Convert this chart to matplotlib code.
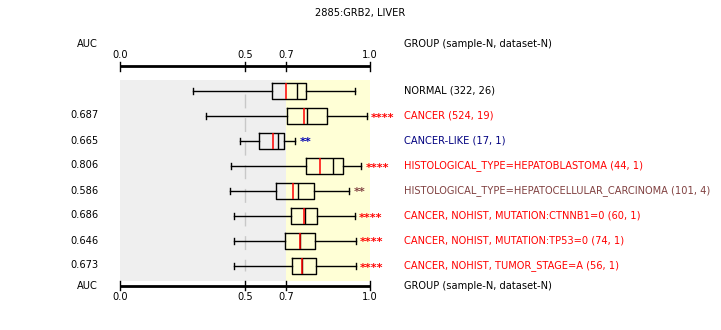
#!/usr/bin/env python3
import matplotlib
matplotlib.use("Agg")
import matplotlib.pyplot as plt

# group labels, AUC and colours (top to bottom)
groups = [
    "NORMAL (322, 26)",
    "CANCER (524, 19)",
    "CANCER-LIKE (17, 1)",
    "HISTOLOGICAL_TYPE=HEPATOBLASTOMA (44, 1)",
    "HISTOLOGICAL_TYPE=HEPATOCELLULAR_CARCINOMA (101, 4)",
    "CANCER, NOHIST, MUTATION:CTNNB1=0 (60, 1)",
    "CANCER, NOHIST, MUTATION:TP53=0 (74, 1)",
    "CANCER, NOHIST, TUMOR_STAGE=A (56, 1)",
]
auc = ["", "0.687", "0.665", "0.806", "0.586", "0.686", "0.646", "0.673"]
stars = ["", "****", "**", "****", "**", "****", "****", "****"]
colors = ["black", "#ff0000", "#000080", "#ff0000", "#804040", "#ff0000", "#ff0000", "#ff0000"]
star_colors = ["black", "#ff0000", "#0000b0", "#ff0000", "#804040", "#ff0000", "#ff0000", "#ff0000"]

# box statistics, in the chart's 0..1 axis units
whislo = [0.291, 0.343, 0.479, 0.445, 0.441, 0.457, 0.457, 0.457]
q1 = [0.609, 0.669, 0.557, 0.743, 0.623, 0.685, 0.661, 0.689]
red = [0.663, 0.737, 0.613, 0.801, 0.693, 0.736, 0.721, 0.729]
black = [0.707, 0.749, 0.633, 0.851, 0.713, 0.740, 0.721, 0.729]
q3 = [0.743, 0.829, 0.657, 0.891, 0.775, 0.789, 0.779, 0.783]
whishi = [0.939, 0.988, 0.701, 0.965, 0.917, 0.939, 0.945, 0.945]

tick_pos = [0.0, 0.5, 0.663, 1.0]
tick_labels = ["0.0", "0.5", "0.7", "1.0"]

W, H = 721, 330
X0, XW = 120, 250  # pixel position of 0 and length of 0..1

fig = plt.figure(figsize=(W / 100, H / 100), dpi=100)
ax = fig.add_axes([0, 0, 1, 1])
ax.set_xlim(-X0 / XW, (W - X0) / XW)
ax.set_ylim(H, 0)
ax.axis("off")

FS = 7.1
plt.rcParams["font.family"] = ["DejaVu Sans"]

rows = [90.5 + 25 * i for i in range(len(groups))]
top, bot = 80, 281

# backgrounds
ax.axvspan(0, tick_pos[2], ymin=1 - bot / H, ymax=1 - top / H, color="#efefef", lw=0, zorder=0)
ax.axvspan(tick_pos[2], 1, ymin=1 - bot / H, ymax=1 - top / H, color="#ffffd6", lw=0, zorder=0)
ax.plot([0.5, 0.5], [top + 14, bot - 10], color="#c8c8c8", lw=1.0, dashes=(10, 7), zorder=1)

stats = []
for i in range(len(groups)):
    stats.append(dict(whislo=whislo[i], q1=q1[i], med=black[i], mean=red[i],
                      q3=q3[i], whishi=whishi[i], fliers=[]))
ln = dict(color="black", lw=1.0)
ax.bxp(stats, positions=rows, widths=16, capwidths=6, orientation="horizontal",
       showmeans=True, meanline=True, manage_ticks=False,
       boxprops=ln, whiskerprops=ln, capprops=ln,
       medianprops=dict(color="black", lw=1.0),
       meanprops=dict(color="#ff0000", lw=1.1, linestyle="-"))

for i, y in enumerate(rows):
    ax.text((404 - X0) / XW, y, groups[i], color=colors[i],
            fontsize=FS, va="center", ha="left")
    ax.text((84 - X0) / XW, y, auc[i], fontsize=FS, va="center", ha="center")
    if stars[i]:
        ax.text(whishi[i] + 4 / XW, y + 2, stars[i], color=star_colors[i],
                fontsize=FS + 1, va="center", ha="left", fontweight="bold")

# top and bottom AUC axes
for yl, ylab, yhead in [(66, 55, 44), (285.5, 296.5, 286)]:
    ax.plot([0, 1], [yl, yl], color="black", lw=2.0, solid_capstyle="butt")
    for t, lab in zip(tick_pos, tick_labels):
        ax.plot([t, t], [yl - 4.5, yl + 4.5], color="black", lw=1.0)
        ax.text(t, ylab, lab, fontsize=FS, ha="center", va="center")
    ax.text((87 - X0) / XW, yhead, "AUC", fontsize=FS, ha="center", va="center")
    ax.text((404 - X0) / XW, yhead, "GROUP (sample-N, dataset-N)", fontsize=FS,
            ha="left", va="center")

ax.text((360 - X0) / XW, 13, "2885:GRB2, LIVER", fontsize=FS, ha="center", va="center")

fig.savefig("out.png", dpi=100)
